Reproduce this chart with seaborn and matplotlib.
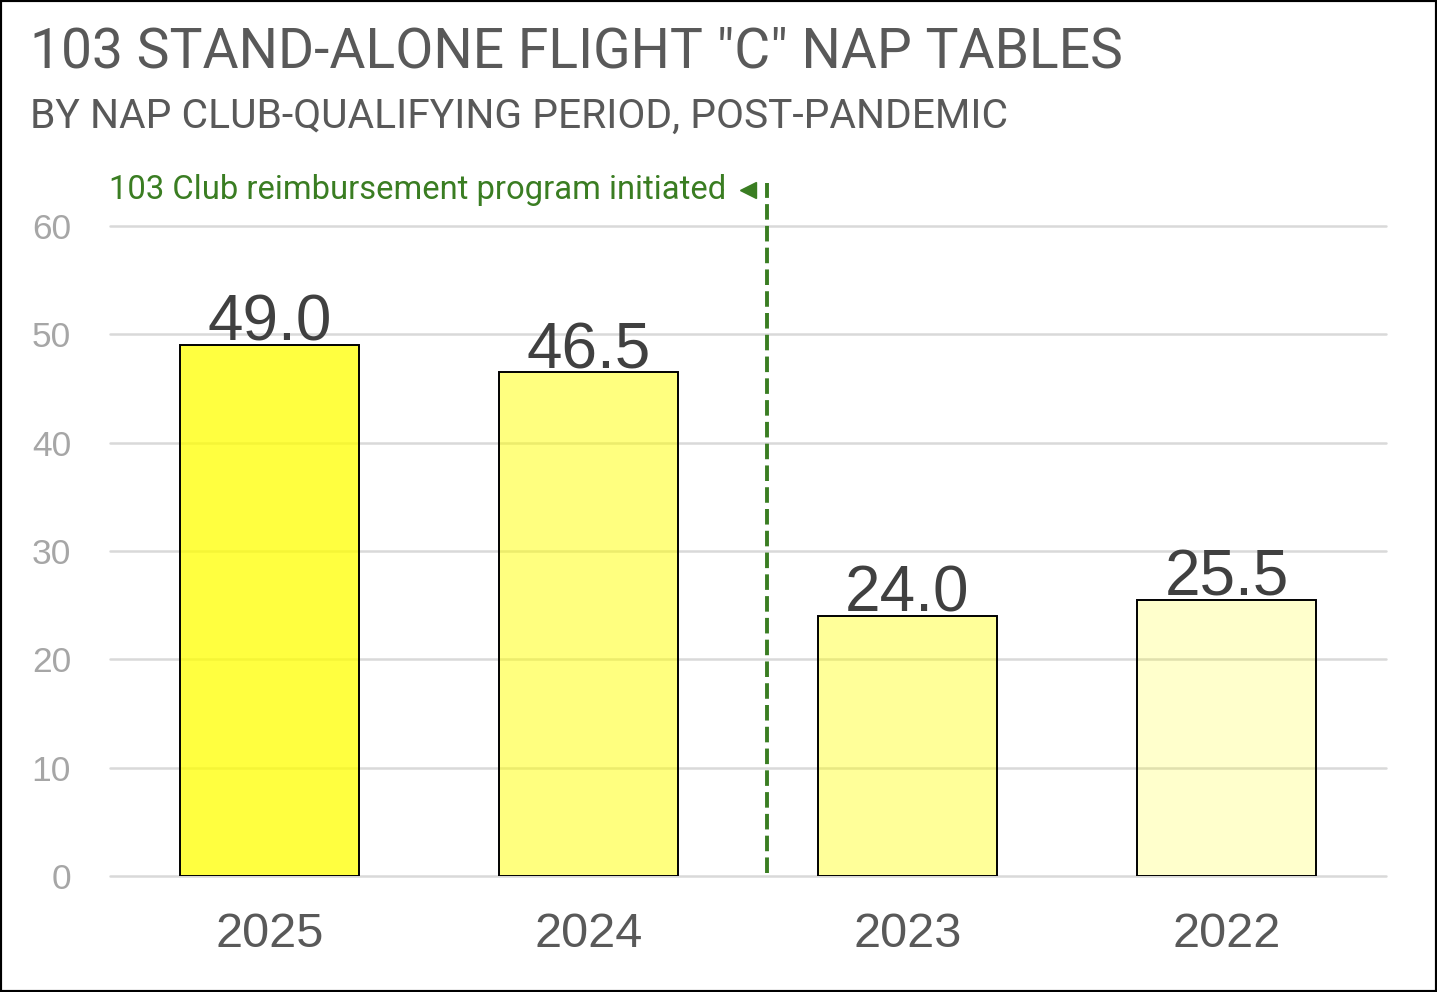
import pandas as pd
import seaborn as sns
import matplotlib.pyplot as plt
from matplotlib.patches import Rectangle

# chart data
years = ["2025", "2024", "2023", "2022"]
tables = [49.0, 46.5, 24.0, 25.5]
fill_alpha = [0.75, 0.5, 0.4, 0.2]
yticks = [0, 10, 20, 30, 40, 50, 60]

title = '103 STAND-ALONE FLIGHT "C" NAP TABLES'
subtitle = "BY NAP CLUB-QUALIFYING PERIOD, POST-PANDEMIC"
note = "103 Club reimbursement program initiated"

NARROW = ["Roboto", "DejaVu Sans"]
GREEN = "#3A7D22"


def make_chart():
    sns.set_style("white")
    plt.rcParams["font.family"] = ["Liberation Sans", "DejaVu Sans"]

    df = pd.DataFrame({"year": years, "tables": tables})

    fig = plt.figure(figsize=(14.37, 9.92), dpi=100)
    ax = fig.add_axes([0.0765, 0.1169, 0.888, 0.6553])

    sns.barplot(data=df, x="year", y="tables", ax=ax, width=0.56,
                color="yellow", edgecolor="black", linewidth=1.4, zorder=3)
    for bar, a in zip(ax.patches, fill_alpha):
        bar.set_facecolor((1.0, 1.0, 0.0, a))
        bar.set_edgecolor("black")

    # value labels sitting on the bars
    for bar, v in zip(ax.patches, tables):
        ax.annotate(f"{v:.1f}", (bar.get_x() + bar.get_width() / 2, v),
                    xytext=(0, 3), textcoords="offset points",
                    ha="center", va="baseline", fontsize=46, color="#404040")

    ax.set_xlim(-0.5, len(years) - 0.5)
    ax.set_ylim(0, 60)
    ax.set_yticks(yticks)
    ax.yaxis.grid(True, color="#D9D9D9", linewidth=1.8, zorder=0)
    ax.set_axisbelow(True)
    for gl in ax.get_ygridlines():
        gl.set_clip_on(False)
    for s in ax.spines.values():
        s.set_visible(False)
    ax.set_xlabel("")
    ax.set_ylabel("")
    ax.tick_params(axis="x", length=0, pad=26, labelsize=35, labelcolor="#595959")
    ax.tick_params(axis="y", length=0, pad=28, labelsize=25.5, labelcolor="#A6A6A6")

    # program-start marker between 2024 and 2023
    ax.plot([1.56, 1.56], [0.3, 64], ls=(0, (4, 1.6)), lw=2.8, color=GREEN,
            clip_on=False, zorder=4)
    ax.plot([1.5], [63.3], marker="<", markersize=12, color=GREEN,
            clip_on=False, zorder=4)
    ax.text(1.432, 63.3, note, ha="right", va="center", fontsize=23.6,
            color=GREEN, family=NARROW)

    fig.text(0.0209, 0.9315, title, fontsize=39.8, color="#595959",
             family=NARROW, va="baseline")
    fig.text(0.0209, 0.871, subtitle, fontsize=29.3, color="#595959",
             family=NARROW, va="baseline")

    fig.add_artist(Rectangle((0, 0), 1, 1, transform=fig.transFigure,
                             fill=False, edgecolor="black", linewidth=3))

    fig.savefig("out.png", dpi=100)


if __name__ == "__main__":
    make_chart()
